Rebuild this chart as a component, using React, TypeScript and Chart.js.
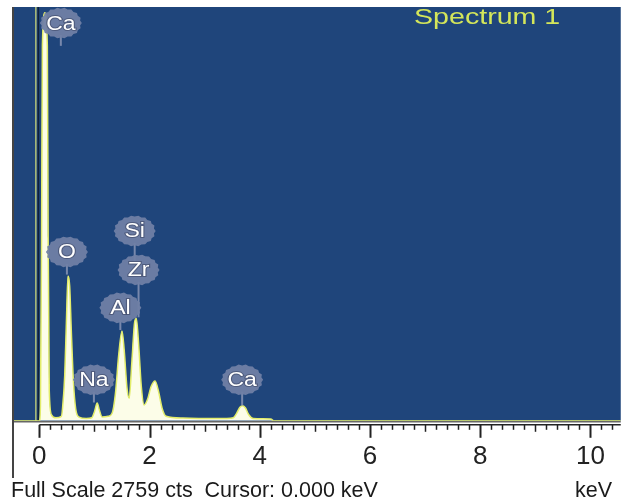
import React, { useEffect, useRef } from "react";
import { Chart, registerables } from "chart.js";

Chart.register(...registerables);

// Spectrum (energy in keV, counts)
const energyKeV = [
  -0.46, -0.05, 0.0, 0.02, 0.04, 0.055, 0.1, 0.145, 0.16, 0.18, 0.22, 0.3, 0.4,
  0.42, 0.46, 0.49, 0.52, 0.55, 0.58, 0.62, 0.66, 0.72, 0.85, 0.95, 1.0, 1.05,
  1.09, 1.14, 1.25, 1.32, 1.38, 1.44, 1.5, 1.54, 1.59, 1.63, 1.68, 1.73, 1.76,
  1.8, 1.85, 1.9, 1.96, 2.03, 2.1, 2.16, 2.23, 2.3, 2.6, 3.0, 3.4, 3.52, 3.58,
  3.64, 3.69, 3.74, 3.8, 3.88, 4.2, 4.25, 10.55,
];
const counts = [
  0, 0, 0, 100, 1200, 2500, 2720, 2500, 1200, 200, 40, 20, 30,
  80, 300, 650, 965, 900, 600, 250, 80, 25, 15, 20, 60, 118,
  70, 25, 30, 50, 180, 440, 598, 470, 220, 150, 400, 660, 682,
  520, 230, 105, 140, 230, 266, 200, 80, 30, 18, 15, 15, 20, 50,
  90, 100, 85, 40, 15, 12, 0, 0,
];

// Element labels: name, label centre (keV, counts), stem tip (counts)
const labelNames = ["Ca", "O", "Si", "Zr", "Al", "Na", "Ca"];
const labelKeV = [0.39, 0.5, 1.73, 1.8, 1.47, 0.99, 3.68];
const labelCounts = [2652, 1126, 1266, 1006, 753, 273, 273];
const labelTips = [2500, 975, 1050, 690, 605, 122, 102];

const xTickLabels = [0, 2, 4, 6, 8, 10];
const fullScale = 2759;
const spectrumName = "Spectrum 1";
const footerText = "Full Scale 2759 cts  Cursor: 0.000 keV";
const unitText = "keV";

const FONT = '"Liberation Sans", Arial, sans-serif';

function blob(ctx: CanvasRenderingContext2D, cx: number, cy: number, rx: number, ry: number) {
  ctx.beginPath();
  const n = 36;
  for (let i = 0; i <= n; i++) {
    const a = (i / n) * Math.PI * 2;
    const k = i % 2 === 0 ? 1 : 0.93;
    const px = cx + Math.cos(a) * rx * k;
    const py = cy + Math.sin(a) * ry * k;
    if (i === 0) ctx.moveTo(px, py);
    else ctx.lineTo(px, py);
  }
  ctx.closePath();
}

const edsPlugin = {
  id: "eds",
  beforeDraw(chart: any) {
    const { ctx, chartArea: a, width, height } = chart;
    ctx.save();
    ctx.fillStyle = "#ffffff";
    ctx.fillRect(0, 0, width, height);
    ctx.fillStyle = "#1f457b";
    ctx.fillRect(a.left, a.top, a.right - a.left, a.bottom - a.top);
    // cursor lines at 0 keV
    const x = chart.scales.x;
    const x0 = x.getPixelForValue(0);
    ctx.strokeStyle = "rgba(215,225,120,0.8)";
    ctx.lineWidth = 1.5;
    ctx.beginPath();
    ctx.moveTo(x0 - 3.5, a.top);
    ctx.lineTo(x0 - 3.5, a.bottom);
    ctx.stroke();
    ctx.strokeStyle = "#10203a";
    ctx.lineWidth = 1.5;
    ctx.beginPath();
    ctx.moveTo(x0 - 1, a.top);
    ctx.lineTo(x0 - 1, a.bottom);
    ctx.stroke();
    ctx.restore();
  },
  afterDatasetsDraw(chart: any) {
    const { ctx, chartArea: a } = chart;
    const xs = chart.scales.x;
    const ys = chart.scales.y;
    ctx.save();
    // labels
    for (let i = 0; i < labelNames.length; i++) {
      const cx = xs.getPixelForValue(labelKeV[i]);
      const cy = ys.getPixelForValue(labelCounts[i]);
      const ty = ys.getPixelForValue(labelTips[i]);
      ctx.strokeStyle = "rgba(125,140,175,0.95)";
      ctx.lineWidth = 2;
      ctx.beginPath();
      ctx.moveTo(cx, cy + 12);
      ctx.lineTo(cx, ty);
      ctx.stroke();
      blob(ctx, cx, cy, 21, 15.5);
      ctx.fillStyle = "rgba(112,128,165,0.95)";
      ctx.fill();
      ctx.font = `20px ${FONT}`;
      ctx.textAlign = "center";
      ctx.textBaseline = "middle";
      ctx.lineWidth = 2;
      ctx.strokeStyle = "rgba(60,70,100,0.6)";
      ctx.save();
      ctx.translate(cx, cy + 1);
      ctx.scale(1.15, 1);
      ctx.strokeText(labelNames[i], 0, 0);
      ctx.fillStyle = "#ffffff";
      ctx.fillText(labelNames[i], 0, 0);
      ctx.restore();
    }
    // spectrum name
    ctx.save();
    ctx.font = `22px ${FONT}`;
    ctx.textAlign = "left";
    ctx.textBaseline = "alphabetic";
    ctx.translate(414, 24);
    ctx.scale(1.3, 1);
    ctx.fillStyle = "#d4e65a";
    ctx.fillText(spectrumName, 0, 0);
    ctx.restore();

    // axis lines and ticks
    ctx.strokeStyle = "#666666";
    ctx.lineWidth = 1.5;
    ctx.beginPath();
    ctx.moveTo(a.left, a.bottom + 1);
    ctx.lineTo(a.right, a.bottom + 1);
    ctx.stroke();
    const base = a.bottom + 4;
    const x0 = xs.getPixelForValue(0);
    ctx.strokeStyle = "#222222";
    ctx.lineWidth = 1.5;
    ctx.beginPath();
    ctx.moveTo(x0, base);
    ctx.lineTo(a.right, base);
    ctx.stroke();
    for (let i = 0; i <= 52; i++) {
      const v = i * 0.2;
      const px = Math.round(xs.getPixelForValue(v)) + 0.5;
      const len = i % 10 === 0 ? 13 : i % 5 === 0 ? 7 : 5;
      ctx.lineWidth = i % 10 === 0 ? 2 : 1.5;
      ctx.beginPath();
      ctx.moveTo(px, base);
      ctx.lineTo(px, base + len);
      ctx.stroke();
    }
    // left border
    ctx.strokeStyle = "#444444";
    ctx.lineWidth = 2;
    ctx.beginPath();
    ctx.moveTo(a.left - 1, a.top);
    ctx.lineTo(a.left - 1, 478);
    ctx.stroke();
    // footer
    ctx.fillStyle = "#1a1a1a";
    ctx.font = `21.5px ${FONT}`;
    ctx.textBaseline = "alphabetic";
    ctx.textAlign = "left";
    ctx.fillText(footerText, 11, 497);
    ctx.textAlign = "right";
    ctx.fillText(unitText, 612, 497);
    ctx.restore();
  },
};

export default function App() {
  const ref = useRef<HTMLCanvasElement | null>(null);
  useEffect(() => {
    document.body.style.margin = "0";
    const canvas = ref.current!;
    const chart = new Chart(canvas, {
      type: "line",
      data: {
        datasets: [
          {
            data: energyKeV.map((e, i) => ({ x: e, y: counts[i] })),
            fill: "origin",
            backgroundColor: "rgba(252,253,232,1)",
            borderColor: "#e2ec6a",
            borderWidth: 1.5,
            pointRadius: 0,
            cubicInterpolationMode: "monotone",
            tension: 0.4,
          },
        ],
      },
      options: {
        animation: false,
        responsive: false,
        devicePixelRatio: 1,
        layout: { padding: { left: 14, right: 2, top: 7, bottom: 12 } },
        plugins: { legend: { display: false }, tooltip: { enabled: false } },
        scales: {
          x: {
            type: "linear",
            min: -0.46,
            max: 10.55,
            grid: { display: false, drawTicks: false },
            border: { display: false },
            afterBuildTicks: (scale: any) => {
              scale.ticks = xTickLabels.map((v) => ({ value: v }));
            },
            ticks: {
              autoSkip: false,
              maxRotation: 0,
              padding: 20,
              color: "#222222",
              font: { family: FONT, size: 26 },
              callback: (v: any) => String(v),
            },
          },
          y: { display: false, min: 0, max: fullScale },
        },
      },
      plugins: [edsPlugin],
    } as any);
    return () => chart.destroy();
  }, []);
  return (
    <div style={{ position: "absolute", left: 0, top: 0, width: 625, height: 504 }}>
      <canvas ref={ref} width={625} height={504} />
    </div>
  );
}
